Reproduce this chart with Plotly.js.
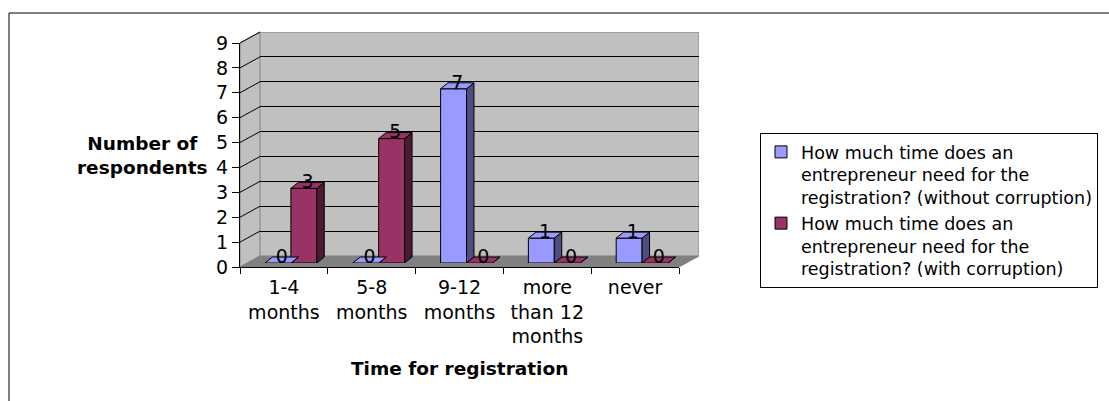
<!DOCTYPE html>
<html>
<head>
<meta charset="utf-8">
<script src="https://cdn.plot.ly/plotly-3.0.1.min.js"></script>
<style>
  html, body { margin: 0; padding: 0; background: #ffffff; }
  #chart { width: 1109px; height: 401px; }
</style>
</head>
<body>
<div id="chart"></div>
<script>
// ---------- data ----------
const categories = ["1-4 months", "5-8 months", "9-12 months", "more than 12 months", "never"];
const tickLabels = ["1-4<br>months", "5-8<br>months", "9-12<br>months", "more<br>than 12<br>months", "never"];
const seriesNames = [
  "How much time does an<br>entrepreneur need for the<br>registration? (without corruption)",
  "How much time does an<br>entrepreneur need for the<br>registration? (with corruption)"
];
const withoutCorruption = [0, 0, 7, 1, 1];
const withCorruption = [3, 5, 0, 0, 0];
const yTickValues = [0, 1, 2, 3, 4, 5, 6, 7, 8, 9];

// ---------- layout constants (pixels) ----------
const W = 1109, H = 401;
const FRONT = { x0: 240, x1: 679, yZero: 267, yTop: 43 };   // front axis plane
const WALL = { dx: 20, dy: -11 };                              // back wall offset
const BARPLANE = { dx: 7, dy: -4 };                            // bar front-face plane offset
const BAR_W = 0.295;                                           // bar width (category units)
const FACE_DX = 0.085, FACE_DY = 0.24;                         // bar depth in data units
const FRONT_COLORS = ["#9999FF", "#993366"];
const SIDE_COLORS = ["#4D4D80", "#4D1A33"];
const FONT = "DejaVu Sans, Arial, sans-serif";

const px = x => x / W;
const py = y => 1 - y / H;
function domX(off) { return [px(FRONT.x0 + off), px(FRONT.x1 + off)]; }
function domY(off) { return [py(FRONT.yZero + off), py(FRONT.yTop + off)]; }

const xRange = [-0.5, categories.length - 0.5];
const yRange = [0, 9];
const positions = categories.map((_, i) => i);

// ---------- traces ----------
const traces = [];
const seriesVals = [withoutCorruption, withCorruption];

// invisible trace to carry the category labels on the front axis
traces.push({
  type: "scatter", x: tickLabels, y: tickLabels.map(() => 0),
  xaxis: "x2", yaxis: "y2", mode: "markers", marker: { opacity: 0 },
  hoverinfo: "skip", showlegend: false
});

seriesVals.forEach((vals, s) => {
  const off = (s - 1) * BAR_W;
  traces.push({
    type: "bar", name: seriesNames[s], x: positions, y: vals,
    xaxis: "x3", yaxis: "y3", width: BAR_W, offset: off,
    marker: { color: FRONT_COLORS[s], line: { color: "#000000", width: 1 } },
    cliponaxis: false, hoverinfo: "y"
  });
});

seriesVals.forEach((vals, s) => {
  const off = (s - 1) * BAR_W;
  const tx = [], ty = [], sx = [], sy = [];
  vals.forEach((v, i) => {
    const xl = positions[i] + off, xr = xl + BAR_W;
    tx.push(xl, xr, xr + FACE_DX, xl + FACE_DX, xl, null);
    ty.push(v, v, v + FACE_DY, v + FACE_DY, v, null);
    sx.push(xr, xr + FACE_DX, xr + FACE_DX, xr, xr, null);
    sy.push(0, FACE_DY, v + FACE_DY, v, 0, null);
  });
  traces.push({
    type: "scatter", x: sx, y: sy, xaxis: "x3", yaxis: "y3",
    mode: "lines", fill: "toself", fillcolor: SIDE_COLORS[s],
    line: { color: "#000000", width: 1 }, showlegend: false, hoverinfo: "skip",
    cliponaxis: false
  });
  traces.push({
    type: "scatter", x: tx, y: ty, xaxis: "x3", yaxis: "y3",
    mode: "lines", fill: "toself", fillcolor: FRONT_COLORS[s],
    line: { color: "#000000", width: 1 }, showlegend: false, hoverinfo: "skip",
    cliponaxis: false
  });
});

// data labels
seriesVals.forEach((vals, s) => {
  const off = (s - 1) * BAR_W;
  traces.push({
    type: "scatter", mode: "text", xaxis: "x3", yaxis: "y3",
    x: positions.map(c => c + off + BAR_W / 2 + FACE_DX / 2),
    y: vals.map(v => v + FACE_DY / 2 + 0.08),
    text: vals.map(String), textposition: "middle center",
    textfont: { family: FONT, size: 19, color: "#000000" },
    showlegend: false, hoverinfo: "skip", cliponaxis: false
  });
});

// ---------- decorative walls ----------
const fx0 = FRONT.x0, fx1 = FRONT.x1, fyb = FRONT.yZero, fyt = FRONT.yTop;
const bx0 = fx0 + WALL.dx, bx1 = fx1 + WALL.dx, byb = fyb + WALL.dy, byt = fyt + WALL.dy;
const P = (x, y) => px(x).toFixed(5) + "," + py(y).toFixed(5);
const shapes = [
  // outer chart border
  { type: "rect", xref: "paper", yref: "paper", x0: px(9), x1: 1.02, y0: -0.02, y1: py(13),
    line: { color: "#000000", width: 1 }, layer: "below" },
  // back wall
  { type: "rect", xref: "x", yref: "y", x0: xRange[0], x1: xRange[1], y0: yRange[0], y1: yRange[1],
    fillcolor: "#C0C0C0", line: { color: "#808080", width: 1 }, layer: "below" },
  // left wall
  { type: "path", xref: "paper", yref: "paper",
    path: "M" + P(fx0, fyb) + "L" + P(fx0, fyt) + "L" + P(bx0, byt) + "L" + P(bx0, byb) + "Z",
    fillcolor: "#C0C0C0", line: { color: "#808080", width: 1 }, layer: "below" },
  // floor
  { type: "path", xref: "paper", yref: "paper",
    path: "M" + P(fx0, fyb) + "L" + P(fx1, fyb) + "L" + P(bx1, byb) + "L" + P(bx0, byb) + "Z",
    fillcolor: "#808080", line: { color: "#808080", width: 1 }, layer: "below" }
];
// left-wall grid lines (one per y tick)
yTickValues.forEach(v => {
  if (v === 0) return;
  const yf = fyb - (fyb - fyt) * v / yRange[1];
  const yb = byb - (byb - byt) * v / yRange[1];
  shapes.push({ type: "line", xref: "paper", yref: "paper",
    x0: px(fx0), y0: py(yf), x1: px(bx0), y1: py(yb),
    line: { color: "#000000", width: 1 }, layer: "below" });
});

// ---------- layout ----------
const layout = {
  width: W, height: H,
  margin: { l: 0, r: 0, t: 0, b: 0, pad: 0 },
  paper_bgcolor: "#FFFFFF",
  plot_bgcolor: "rgba(0,0,0,0)",
  font: { family: FONT, size: 17, color: "#000000" },
  showlegend: true,
  barmode: "overlay",
  // back wall axes
  xaxis: { domain: domX(WALL.dx), range: xRange, anchor: "y", showgrid: false, zeroline: false,
           showticklabels: false, ticks: "", showline: false, fixedrange: true },
  yaxis: { domain: domY(WALL.dy), range: yRange, anchor: "x", showgrid: true, gridcolor: "#000000",
           gridwidth: 1, tickvals: yTickValues, zeroline: false, showticklabels: false, ticks: "",
           showline: false, fixedrange: true },
  // front axes (ticks, labels, axis lines)
  xaxis2: { domain: domX(0), range: xRange, anchor: "y2", type: "category",
            categoryorder: "array", categoryarray: tickLabels,
            tickson: "boundaries", ticks: "outside", ticklen: 6, tickcolor: "#000000",
            ticklabelstandoff: 3,
            showline: true, linecolor: "#000000", linewidth: 1, showgrid: false, zeroline: false,
            tickfont: { family: FONT, size: 19, color: "#000000" }, fixedrange: true },
  yaxis2: { domain: domY(0), range: yRange, anchor: "x2", tickvals: yTickValues,
            ticks: "outside", ticklen: 7, tickcolor: "#000000",
            showline: true, linecolor: "#000000", linewidth: 1, showgrid: false, zeroline: false,
            tickfont: { family: FONT, size: 19, color: "#000000" }, fixedrange: true },
  // bar plane axes
  xaxis3: { domain: domX(BARPLANE.dx), range: xRange, anchor: "y3", visible: false, fixedrange: true },
  yaxis3: { domain: domY(BARPLANE.dy), range: yRange, anchor: "x3", visible: false, fixedrange: true },
  legend: {
    x: px(760), y: py(133), xanchor: "left", yanchor: "top",
    bgcolor: "#FFFFFF", bordercolor: "#000000", borderwidth: 1,
    font: { family: FONT, size: 17.5, color: "#000000" },
    itemwidth: 30, traceorder: "normal", valign: "top"
  },
  shapes: shapes,
  annotations: [
    { text: "<b>Number of<br>respondents</b>", xref: "paper", yref: "paper",
      x: px(142), y: py(155), xanchor: "center", yanchor: "middle", showarrow: false,
      font: { family: FONT, size: 18.5, color: "#000000" }, align: "center" },
    { text: "<b>Time for registration</b>", xref: "paper", yref: "paper",
      x: px(459), y: py(368), xanchor: "center", yanchor: "middle", showarrow: false,
      font: { family: FONT, size: 18.5, color: "#000000" } }
  ]
};

Plotly.newPlot("chart", traces, layout, { displayModeBar: false, staticPlot: false, responsive: false });
</script>
</body>
</html>
